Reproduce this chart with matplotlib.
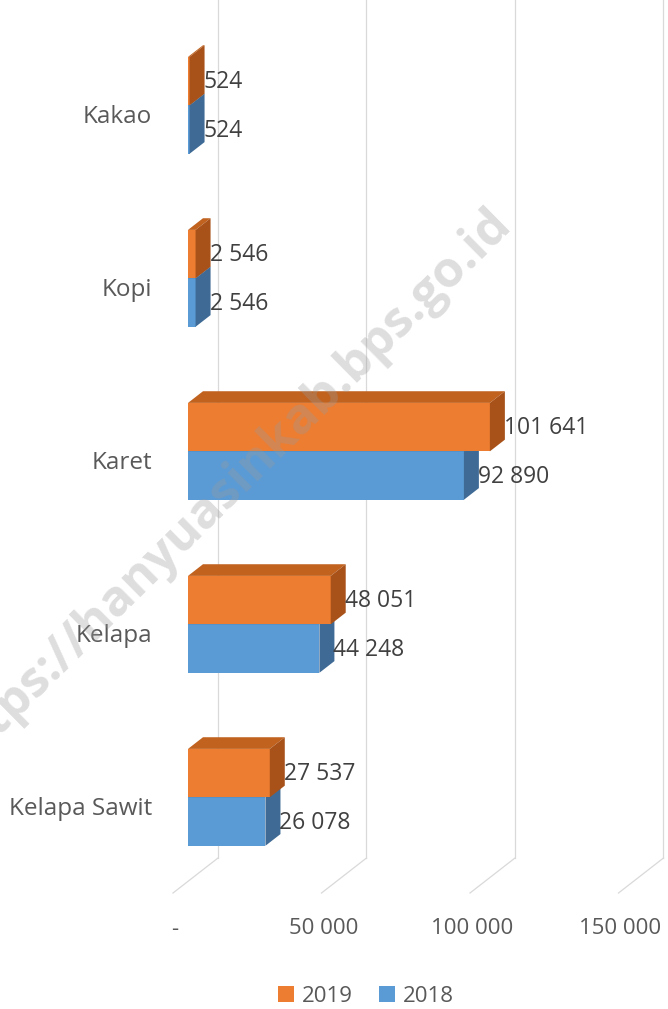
import matplotlib.pyplot as plt
from matplotlib.patches import Polygon, Patch

categories = ['Kakao', 'Kopi', 'Karet', 'Kelapa', 'Kelapa Sawit']
values_2019 = [524, 2546, 101641, 48051, 27537]
values_2018 = [524, 2546, 92890, 44248, 26078]
x_ticks = [0, 50000, 100000, 150000]
x_tick_labels = ['-', '50 000', '100 000', '150 000']

orange = '#ED7D31'
orange_top = '#C1621F'
orange_side = '#A8521A'
blue = '#5B9BD5'
blue_top = '#4A80B3'
blue_side = '#3E6A95'
text_col = '#595959'
grid_col = '#D9D9D9'

plt.rcParams['font.family'] = ['Open Sans', 'DejaVu Sans']

W, H = 668, 1009
fig = plt.figure(figsize=(W / 100, H / 100), dpi=100)
ax = fig.add_axes([0, 0, 1, 1])

# pixel mapping: 2.97 px per 1000, 173 px per category
px_x = 2.97 / 1000
px_y = 173.0
x0_px = 173
y0_px = 117
ax.set_xlim(-x0_px / px_x, (W - x0_px) / px_x)
ax.set_ylim((H - y0_px) / px_y, -y0_px / px_y)
ax.axis('off')

# full depth of the 3d box
DX = 45 / px_x
DY = -35 / px_y
h = 0.28
floor_y = (893 - y0_px) / px_y

# back wall grid and floor
for v in x_ticks:
    ax.plot([v + DX, v + DX], [floor_y + DY, -y0_px / px_y], color=grid_col, lw=0.9, zorder=0)
    ax.plot([v, v + DX], [floor_y, floor_y + DY], color=grid_col, lw=0.9, zorder=0)

for v, lab in zip(x_ticks, x_tick_labels):
    ax.text(v + 2 / px_x, floor_y + 36 / px_y, lab, ha='center', va='center',
            fontsize=16, color=text_col)


def box(v, ytop, ybot, front, top, side):
    dx1, dy1 = DX / 3, DY / 3
    x_a = dx1
    x_b = dx1 + v
    ya, yb = ytop + dy1, ybot + dy1
    ax.add_patch(Polygon([(x_a, yb), (x_b, yb), (x_b, ya), (x_a, ya)],
                         closed=True, facecolor=front, edgecolor='none', zorder=3))
    ax.add_patch(Polygon([(x_a, ya), (x_b, ya), (x_b + dx1, ya + dy1), (x_a + dx1, ya + dy1)],
                         closed=True, facecolor=top, edgecolor='none', zorder=3))
    ax.add_patch(Polygon([(x_b, yb), (x_b + dx1, yb + dy1), (x_b + dx1, ya + dy1), (x_b, ya)],
                         closed=True, facecolor=side, edgecolor='none', zorder=3))
    return x_b + dx1, (ya + yb) / 2


def fmt(v):
    return '{:,}'.format(v).replace(',', ' ')


for i, cat in enumerate(categories):
    xb, yc = box(values_2018[i], i, i + h, blue, blue_top, blue_side)
    ax.text(xb - 1 / px_x, yc + 1 / px_y, fmt(values_2018[i]), ha='left', va='center',
            fontsize=16.5, color='#404040', zorder=4)
    xo, yo = box(values_2019[i], i - h, i, orange, orange_top, orange_side)
    ax.text(xo - 1 / px_x, yo + 1 / px_y, fmt(values_2019[i]), ha='left', va='center',
            fontsize=16.5, color='#404040', zorder=4)
    ax.text(-21 / px_x, i, cat, ha='right', va='center', fontsize=17.5, color=text_col)

# watermark
ax.text(226 / px_x - x0_px / px_x, (490 - y0_px) / px_y, 'https://hanyuasinkab.bps.go.id',
        rotation=44.7, rotation_mode='anchor', ha='center', va='center',
        fontsize=36, fontweight='bold', color='#9A9A9A', alpha=0.33, zorder=5)

handles = [Patch(facecolor=orange, label='2019'), Patch(facecolor=blue, label='2018')]
fig.legend(handles=handles, loc='center', bbox_to_anchor=(366 / W, 1 - 996 / H), ncol=2,
           frameon=False, fontsize=16, handlelength=0.7, handleheight=0.7,
           handletextpad=0.35, columnspacing=1.2, labelcolor=text_col)

fig.savefig('out.png', dpi=100)
